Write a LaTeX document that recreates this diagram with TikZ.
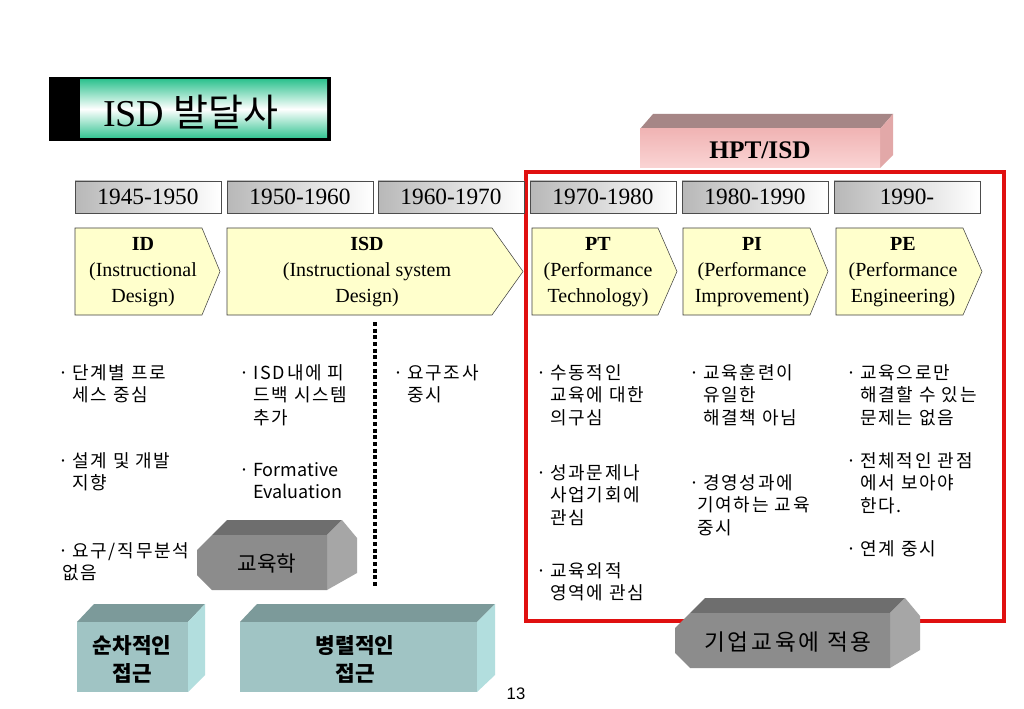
\documentclass[tikz,border=0pt]{standalone}
\usepackage{fontspec}
\setmainfont{Liberation Serif}
\setsansfont{Liberation Sans}
\newfontfamily\kr{Noto Sans CJK KR}
\newfontfamily\krnote[LetterSpace=10]{Noto Sans CJK KR}
\definecolor{titlegreen}{RGB}{52,196,146}
\definecolor{phaseyellow}{RGB}{255,255,204}
\definecolor{hptfront}{RGB}{240,180,180}
\definecolor{hptlight}{RGB}{250,212,212}
\definecolor{hpttop}{RGB}{166,134,134}
\definecolor{hptside}{RGB}{226,168,168}
\definecolor{slabfront}{RGB}{140,140,140}
\definecolor{slabtop}{RGB}{110,110,110}
\definecolor{slabside}{RGB}{166,166,166}
\definecolor{tealfront}{RGB}{160,196,196}
\definecolor{tealtop}{RGB}{124,154,154}
\definecolor{tealside}{RGB}{178,222,222}
\definecolor{framered}{RGB}{224,16,16}
\newcommand\notedot{\llap{·\hspace{3pt}}}

\begin{document}
\begin{tikzpicture}[x=0.75pt,y=-0.75pt,
  year/.style={draw=black!70,left color=black!28,right color=white,minimum width=109.5pt,minimum height=24pt,inner sep=0pt,font=\fontsize{17.5}{20}\selectfont},
  phasebox/.style={draw=black!75,fill=phaseyellow},
  phase/.style={align=center,inner sep=0pt,font=\fontsize{15}{19.5}\selectfont},
  note/.style={anchor=north west,inner sep=0pt,align=left,font=\krnote\fontsize{13.5}{16.9}\selectfont},
  slablabel/.style={font=\kr\fontsize{16}{21}\selectfont,align=center}]
\fill[white] (0,0) rectangle (1024,709);
\useasboundingbox (0,0) rectangle (1024,709);

% title
\fill[black] (49,77) rectangle (331,141);
\shade[top color=titlegreen,bottom color=titlegreen,middle color=white] (80,80) rectangle (327,138);
\node[font=\fontsize{28.5}{30}\selectfont] (title) at (191,112) {ISD {\kr 발달사}};

% HPT/ISD block
\fill[hpttop] (640,129) -- (653,114) -- (893,114) -- (880,129) -- cycle;
\fill[hptside] (880,129) -- (893,114) -- (893,155) -- (880,168) -- cycle;
\shade[top color=hptfront,bottom color=hptlight] (640,129) rectangle (880,168);
\node[font=\bfseries\fontsize{19}{22}\selectfont] (hpt) at (760,150) {HPT/ISD};

\draw[framered,line width=3pt] (526,172) rectangle (1004,621);

% years
\node[year] (y1) at (148,197) {1945-1950};
\node[year] (y2) at (300,197) {1950-1960};
\node[year] (y3) at (451,197) {1960-1970};
\node[year] (y4) at (603,197) {1970-1980};
\node[year] (y5) at (755,197) {1980-1990};
\node[year] (y6) at (907,197) {1990-};

% phases
\path[phasebox] (75,228) -- (202,228) -- (220,271.5) -- (202,315) -- (75,315) -- cycle;
\node[phase] (id) at (143,272) {\textbf{ID}\\(Instructional\\Design)};
\path[phasebox] (227,228) -- (492,228) -- (523,271.5) -- (492,315) -- (227,315) -- cycle;
\node[phase] (isd) at (367,272) {\textbf{ISD}\\(Instructional system\\Design)};
\path[phasebox] (532,228) -- (658,228) -- (677,271.5) -- (658,315) -- (532,315) -- cycle;
\node[phase] (pt) at (598,272) {\textbf{PT}\\(Performance\\Technology)};
\path[phasebox] (683,228) -- (810,228) -- (828,271.5) -- (810,315) -- (683,315) -- cycle;
\node[phase] (pi) at (752,272) {\textbf{PI}\\(Performance\\Improvement)};
\path[phasebox] (836,228) -- (963,228) -- (982,271.5) -- (963,315) -- (836,315) -- cycle;
\node[phase] (pe) at (903,272) {\textbf{PE}\\(Performance\\Engineering)};

% dotted divider
\coordinate (dtop) at (375,322);
\coordinate (dbot) at (375,588);
\draw[line width=3pt,dash pattern=on 3pt off 2pt] (dtop) -- (dbot);

% notes
\node[note] (n11) at (72,364) {\notedot 단계별 프로\\세스 중심};
\node[note] (n12) at (72,452) {\notedot 설계 및 개발\\지향};
\node[note] (n13) at (72,542) {\notedot 요구/직무분석\\\hspace*{-7.5pt}없음};
\node[note] (n21) at (253,364) {\notedot ISD내에 피\\드백 시스템\\추가};
\node[note,font=\kr\fontsize{13.5}{16.9}\selectfont] (n22) at (253,462) {\notedot Formative\\Evaluation};
\node[note] (n31) at (407,364) {\notedot 요구조사\\중시};
\node[note] (n41) at (550,364) {\notedot 수동적인\\교육에 대한\\의구심};
\node[note] (n42) at (550,464) {\notedot 성과문제나\\사업기회에\\관심};
\node[note] (n43) at (550,562) {\notedot 교육외적\\영역에 관심};
\node[note] (n51) at (703,364) {\notedot 교육훈련이\\유일한\\해결책 아님};
\node[note] (n52) at (703,474) {\notedot 경영성과에\\\hspace*{-4.5pt}기여하는 교육\\\hspace*{-4.5pt}중시};
\node[note] (n61) at (860,364) {\notedot 교육으로만\\해결할 수 있는\\문제는 없음};
\node[note] (n62) at (860,452) {\notedot 전체적인 관점\\에서 보아야\\한다.};
\node[note] (n63) at (860,540) {\notedot 연계 중시};

% grey slabs
\fill[slabtop] (212,535) -- (227,520) -- (342,520) -- (327,535) -- cycle;
\fill[slabside] (327,535) -- (342,520) -- (357,538) -- (357,573) -- (327,590) -- cycle;
\fill[slabfront] (212,535) -- (327,535) -- (327,590) -- (212,590) -- (197,575) -- (197,550) -- cycle;
\node[slablabel] (edu) at (267,563) {교육학};

\fill[slabtop] (690,613) -- (705,598) -- (905,598) -- (890,613) -- cycle;
\fill[slabside] (890,613) -- (905,598) -- (920,616) -- (920,650) -- (890,668) -- cycle;
\fill[slabfront] (690,613) -- (890,613) -- (890,668) -- (690,668) -- (675,653) -- (675,628) -- cycle;
\node[slablabel,font=\kr\fontsize{17}{21}\selectfont\addfontfeature{LetterSpace=12}] (corp) at (788,642) {기업교육에 적용};

% teal blocks
\fill[tealtop] (77,622) -- (94,604) -- (205,604) -- (188,622) -- cycle;
\fill[tealside] (188,622) -- (205,604) -- (205,675) -- (188,692) -- cycle;
\fill[tealfront] (77,622) rectangle (188,692);
\node[slablabel,font=\kr\bfseries\fontsize{16}{21}\selectfont] (seq) at (132,659) {순차적인\\접근};

\fill[tealtop] (240,622) -- (257,604) -- (495,604) -- (477,622) -- cycle;
\fill[tealside] (477,622) -- (495,604) -- (495,675) -- (477,692) -- cycle;
\fill[tealfront] (240,622) rectangle (477,692);
\node[slablabel,font=\kr\bfseries\fontsize{16}{21}\selectfont] (par) at (355,659) {병렬적인\\접근};

\node[font=\sffamily\fontsize{12.5}{14}\selectfont] (page) at (516,694) {13};
\end{tikzpicture}
\end{document}
